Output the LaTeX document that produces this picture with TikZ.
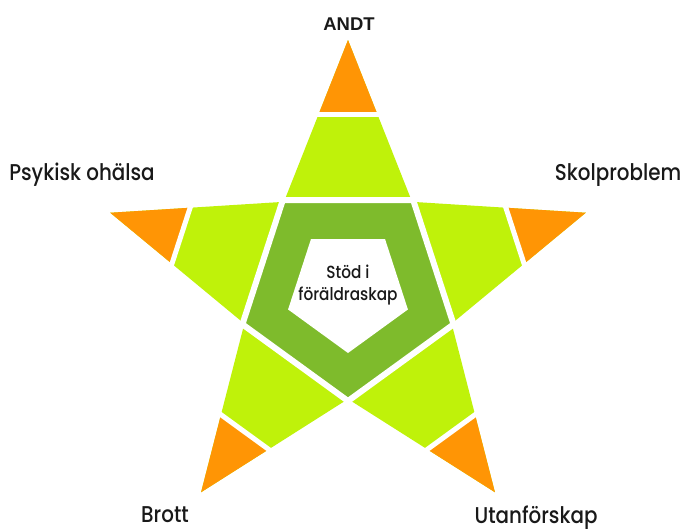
\documentclass[tikz,border=0pt]{standalone}
\usepackage{fontspec}
\setmainfont{Poppins}[UprightFont=* Medium, FakeStretch=0.87]
\newfontfamily\titlefont{Liberation Sans}
\usepackage{tikz}
\usetikzlibrary{calc}
\definecolor{armgreen}{HTML}{BFF20A}
\definecolor{coregreen}{HTML}{7EBB2C}
\definecolor{tiporange}{HTML}{FF9505}

\begin{document}
\begin{tikzpicture}[
    x=0.02cm, y=0.02cm,
    topic/.style={font=\fontsize{13}{15}\selectfont, anchor=base, inner sep=0pt, text=black!90},
    cut/.style={draw=white, line width=0.1cm, shorten <=-4pt, shorten >=-4pt},
    core/.style={fill=coregreen, draw=white, line width=0.12cm}
]
\useasboundingbox (0,0) rectangle (685,529);

% Star points
\coordinate (c) at (348,239);
\foreach \k in {0,...,4} {
    \coordinate (t\k) at ($(c)+({90+72*\k}:250)$);
    \coordinate (v\k) at ($(c)+({126+72*\k}:109)$);
    \coordinate (p\k) at ($(c)+({126+72*\k}:111)$);
    \coordinate (q\k) at ($(c)+({126+72*\k}:63)$);
}

% Star body
\fill[armgreen] (t0) -- (v0) -- (t1) -- (v1) -- (t2) -- (v2) -- (t3) -- (v3) -- (t4) -- (v4) -- cycle;

% Orange tips
\foreach \k/\j in {0/4,1/0,2/1,3/2,4/3} {
    \fill[tiporange] (t\k) -- ($(t\k)!0.46!(v\k)$) -- ($(t\k)!0.46!(v\j)$) -- cycle;
    \draw[cut] ($(t\k)!0.46!(v\k)$) -- ($(t\k)!0.46!(v\j)$);
}

% Core pentagon
\filldraw[core] (p0) -- (p1) -- (p2) -- (p3) -- (p4) -- cycle;
\fill[white] (q0) -- (q1) -- (q2) -- (q3) -- (q4) -- cycle;
\node[align=center, font=\fontsize{10}{12}\selectfont, text=black!90] (stod) at ($(c)+(0,5)$) {Stöd i\\föräldraskap};

% Labels
\node[topic, font=\titlefont\bfseries\fontsize{10.5}{12}\selectfont] (andt) at (349,499) {ANDT};
\node[topic] (psyk) at (82,349) {Psykisk ohälsa};
\node[topic] (skol) at (618,349) {Skolproblem};
\node[topic] (brott) at (165,7) {Brott};
\node[topic] (utan) at (536,6) {Utanförskap};

\end{tikzpicture}
\end{document}
